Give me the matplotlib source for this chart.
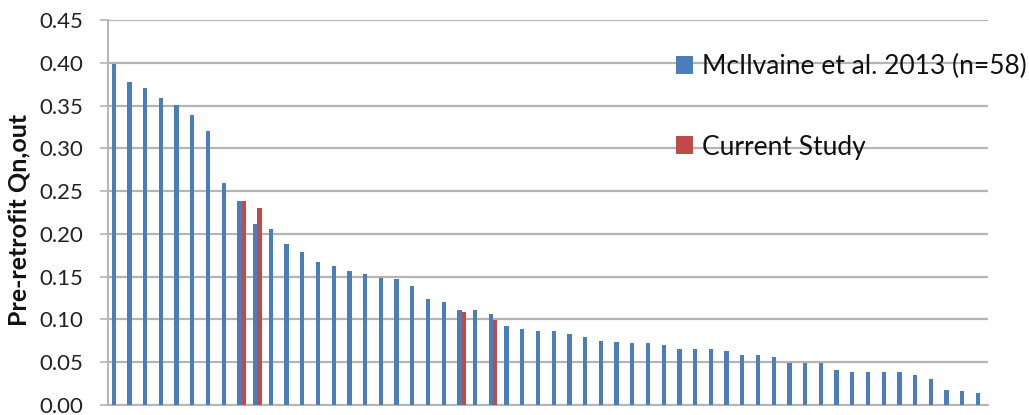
import matplotlib
matplotlib.use("Agg")
import matplotlib.pyplot as plt
import numpy as np

plt.rcParams['font.family'] = ['Lato', 'DejaVu Sans']

# Data (sorted descending)
mcilvaine = [0.398, 0.377, 0.371, 0.359, 0.351, 0.339, 0.320, 0.259, 0.239, 0.212,
             0.206, 0.188, 0.179, 0.167, 0.163, 0.157, 0.153, 0.149, 0.147, 0.139,
             0.124, 0.120, 0.111, 0.111, 0.106, 0.092, 0.089, 0.086, 0.086, 0.083,
             0.079, 0.075, 0.074, 0.072, 0.072, 0.070, 0.066, 0.066, 0.065, 0.063,
             0.059, 0.058, 0.056, 0.049, 0.049, 0.049, 0.041, 0.039, 0.039, 0.038,
             0.038, 0.035, 0.030, 0.017, 0.016, 0.014]
current_idx = [8, 9, 22, 24]
current_vals = [0.239, 0.230, 0.109, 0.099]

series_labels = ["McIlvaine et al. 2013 (n=58)", "Current Study"]
ylabel = "Pre-retrofit Qn,out"
yticks = [0.00, 0.05, 0.10, 0.15, 0.20, 0.25, 0.30, 0.35, 0.40, 0.45]

blue = "#4A7EBB"
red = "#BE4B48"
grid_c = "#B4B4B4"

fig = plt.figure(figsize=(10.29, 4.15), dpi=100)
W, H = 1029, 415
ax = fig.add_axes([108 / W, (H - 405) / H, (988 - 108) / W, (405 - 20) / H])

n = len(mcilvaine)
x = np.arange(n)
bw = 0.27
b1 = ax.bar(x - bw / 2, mcilvaine, width=bw, color=blue, label=series_labels[0], zorder=3)
b2 = ax.bar(np.array(current_idx) + bw / 2, current_vals, width=bw, color=red,
            label=series_labels[1], zorder=3)

ax.set_xlim(-0.5, n - 0.5)
ax.set_ylim(0, 0.45)
ax.set_yticks(yticks)
ax.set_yticklabels([f"{v:.2f}" for v in yticks])
ax.set_xticks([])

ax.yaxis.grid(True, color=grid_c, linewidth=1.6, zorder=0)
ax.set_axisbelow(True)
for s in ['top', 'right']:
    ax.spines[s].set_visible(False)
ax.spines['left'].set_color(grid_c)
ax.spines['bottom'].set_color(grid_c)
ax.spines['left'].set_linewidth(1.4)
ax.spines['bottom'].set_linewidth(1.4)
ax.tick_params(axis='y', length=6, width=1.2, color=grid_c, pad=12, labelsize=16,
               labelcolor="#222222")

ax.set_ylabel(ylabel, fontsize=18, fontweight='bold', color="#111111")
ax.yaxis.set_label_coords(-(108 - 30) / 880, 0.48)

leg = fig.legend(handles=[b1, b2], labels=series_labels, loc='upper left',
                 bbox_to_anchor=(676 / W, 1 - 54 / H), frameon=False, fontsize=19,
                 handlelength=0.65, handleheight=0.65, handletextpad=0.35,
                 labelspacing=2.1, borderaxespad=0, borderpad=0)
for t in leg.get_texts():
    t.set_color("#111111")

fig.savefig("out.png", dpi=100, facecolor="white")
